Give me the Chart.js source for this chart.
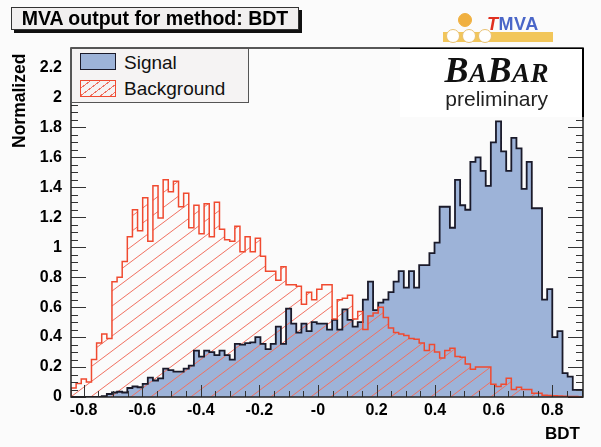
<!DOCTYPE html>
<html>
<head>
<meta charset="utf-8">
<script src="https://cdn.jsdelivr.net/npm/chart.js@4.4.1/dist/chart.umd.min.js"></script>
<style>
  html, body { margin: 0; padding: 0; background: #fbfbfb; }
  #wrap { position: relative; width: 601px; height: 447px; overflow: hidden; font-family: "Liberation Sans", Arial, sans-serif; }
  #c { position: absolute; left: 0; top: 0; }
  .title { position: absolute; left: 11px; top: 7px; width: 286px; height: 21px; background: #f1efef; border: 1px solid #333;
           box-shadow: 3px 3px 0 #111; font-weight: bold; font-size: 19.5px; line-height: 21px; text-align: center; }
  .legend { position: absolute; left: 71px; top: 48px; width: 176px; height: 53px; background: #f5f3f3; border: 1px solid #555; }
  .sw { position: absolute; left: 8px; width: 36px; height: 17px; box-sizing: border-box; }
  .sw.sig { top: 4px; background: #9db3d8; border: 1.5px solid #1a1a2a; }
  .sw.bkg { top: 31px; border: 1.5px solid #f04a30;
            background: repeating-linear-gradient(143deg, transparent 0 5px, #f07060 5px 6px); }
  .lt { position: absolute; left: 52px; font-size: 19px; color: #111; }
  .babar { position: absolute; left: 400px; top: 48px; width: 182px; height: 68px; background: #fff;
           border-top: 1px solid #000; border-right: 2px solid #000; }
  .bb { position: absolute; right: 33px; top: 3px; line-height: 36px; font-family: "Liberation Serif", "Times New Roman", serif;
        font-style: italic; font-weight: bold; color: #111; white-space: nowrap; letter-spacing: 0.5px; }
  .bb .big { font-size: 36px; }
  .bb .sm { font-size: 27px; }
  .prelim { position: absolute; right: 34px; top: 38px; font-size: 21px; color: #222; }
  .ytitle { position: absolute; left: 9px; top: 48px; font-weight: bold; font-size: 17.5px;
            transform-origin: 0 0; transform: translate(0, 100px) rotate(-90deg); white-space: nowrap; }
  .xtitle { position: absolute; right: 21px; top: 424px; font-weight: bold; font-size: 17px; }
  .tmva-bar { position: absolute; left: 443px; top: 32px; width: 110px; height: 10px; background: #f2c65a; }
  .circ { position: absolute; width: 12px; height: 12px; border-radius: 50%; background: #fff; border: 1px solid #e8c070; }
  .tmva { position: absolute; left: 487px; top: 14px; font-size: 18px; font-weight: bold; color: #4a66c8; letter-spacing: 0.5px; }
  .tmva i { color: #e03020; }
</style>
</head>
<body>
<div id="wrap">
  <canvas id="c" width="601" height="447"></canvas>
  <div class="title">MVA output for method: BDT</div>
  <div class="tmva-bar"></div>
  <div class="circ" style="left:446px;top:29px"></div>
  <div class="circ" style="left:462px;top:29px"></div>
  <div class="circ" style="left:478px;top:29px"></div>
  <div class="circ" style="left:458px;top:13px;background:#f0b040;border-color:#f0b040"></div>
  <div class="tmva"><i>T</i>MVA</div>
  <div class="legend">
    <div class="sw sig"></div><div class="lt" style="top:3px">Signal</div>
    <div class="sw bkg"></div><div class="lt" style="top:29px">Background</div>
  </div>
  <div class="babar">
    <div class="bb"><span class="big">B</span><span class="sm">A</span><span class="big">B</span><span class="sm">AR</span></div>
    <div class="prelim">preliminary</div>
  </div>
  <div class="ytitle">Normalized</div>
  <div class="xtitle">BDT</div>
</div>
<script>
// histogram binning of the BDT output
const nBins = 100;
const binLo = -0.843;
const binHi = 0.905;

// normalized bin contents
const signalVals = [
  0, 0, 0, 0, 0, 0, 0.005, 0.02, 0.03, 0.035,
  0.03, 0.06, 0.07, 0.065, 0.087, 0.13, 0.11, 0.125, 0.19, 0.18,
  0.17, 0.17, 0.19, 0.21, 0.31, 0.27, 0.31, 0.30, 0.28, 0.31,
  0.28, 0.25, 0.355, 0.35, 0.36, 0.365, 0.40, 0.355, 0.32, 0.355,
  0.47, 0.355, 0.59, 0.49, 0.43, 0.49, 0.44, 0.50, 0.49, 0.49,
  0.45, 0.515, 0.45, 0.585, 0.515, 0.47, 0.50, 0.65, 0.77, 0.58,
  0.63, 0.65, 0.70, 0.77, 0.84, 0.73, 0.84, 0.73, 0.88, 0.88,
  0.96, 1.03, 1.27, 1.27, 1.13, 1.45, 1.28, 1.25, 1.57, 1.60,
  1.51, 1.41, 1.70, 1.84, 1.64, 1.51, 1.73, 1.66, 1.39, 1.57,
  1.26, 1.26, 0.65, 0.72, 0.40, 0.44, 0.16, 0.136, 0.047, 0.047
];
const backgroundVals = [
  0.06, 0.09, 0.12, 0.10, 0.25, 0.36, 0.42, 0.39, 0.77, 0.80,
  0.905, 1.07, 1.25, 1.11, 1.33, 1.04, 1.41, 1.195, 1.45, 1.37,
  1.44, 1.27, 1.36, 1.13, 1.28, 1.09, 1.29, 1.07, 1.30, 1.12,
  1.05, 1.04, 1.14, 0.97, 1.07, 0.97, 1.06, 0.94, 0.84, 0.84,
  0.78, 0.87, 0.75, 0.75, 0.74, 0.62, 0.70, 0.65, 0.72, 0.75,
  0.75, 0.52, 0.65, 0.66, 0.68, 0.52, 0.57, 0.45, 0.54, 0.56,
  0.60, 0.53, 0.46, 0.43, 0.42, 0.41, 0.39, 0.385, 0.36, 0.31,
  0.35, 0.30, 0.26, 0.31, 0.325, 0.27, 0.265, 0.22, 0.185, 0.20,
  0.20, 0.20, 0.085, 0.07, 0.085, 0.125, 0.05, 0.065, 0.05, 0.05,
  0.025, 0.025, 0.012, 0.01, 0.008, 0.006, 0.005, 0.004, 0.003, 0.002
];

const yMax = 2.33;
const yTickStep = 0.2;
const xTickStep = 0.2;

function histPoints(vals) {
  const bw = (binHi - binLo) / nBins;
  const pts = [{ x: binLo, y: 0 }];
  vals.forEach((v, i) => pts.push({ x: binLo + i * bw, y: v }));
  pts.push({ x: binHi, y: vals[vals.length - 1] });
  pts.push({ x: binHi, y: 0 });
  return pts;
}

// red "///" hatch like ROOT fill style 3004
function makeHatch() {
  const w = 20, h = 15;
  const cv = document.createElement("canvas");
  cv.width = w; cv.height = h;
  const g = cv.getContext("2d");
  g.strokeStyle = "#f07060";
  g.lineWidth = 1;
  for (let k = -1; k <= 1; k++) {
    g.beginPath();
    g.moveTo(-5, h + 5 * h / w + k * h);
    g.lineTo(w + 5, -5 * h / w + k * h);
    g.stroke();
  }
  return g.createPattern(cv, "repeat");
}

// inward ticks and frame like ROOT
const framePlugin = {
  id: "frame",
  afterDatasetsDraw(chart) {
    const { ctx, chartArea: a, scales } = chart;
    const x = scales.x, y = scales.y;
    ctx.save();
    ctx.strokeStyle = "#333";
    ctx.lineWidth = 1;
    ctx.beginPath();
    for (let k = 0; k * 0.05 <= yMax; k++) {
      const py = Math.round(y.getPixelForValue(k * 0.05)) + 0.5;
      const len = k % 4 === 0 ? 15 : 7;
      ctx.moveTo(a.left, py); ctx.lineTo(a.left + len, py);
      ctx.moveTo(a.right, py); ctx.lineTo(a.right - len, py);
    }
    for (let k = Math.ceil(binLo / 0.05); k * 0.05 <= binHi; k++) {
      const px = Math.round(x.getPixelForValue(k * 0.05)) + 0.5;
      const len = k % 4 === 0 ? 12 : 6;
      ctx.moveTo(px, a.bottom); ctx.lineTo(px, a.bottom - len);
    }
    ctx.stroke();
    ctx.strokeStyle = "#222";
    ctx.lineWidth = 1.5;
    ctx.strokeRect(a.left, a.top, a.right - a.left, a.bottom - a.top);
    ctx.restore();
  }
};

const tickFont = { family: "'Liberation Sans', Arial, sans-serif", size: 16, weight: "bold" };

new Chart(document.getElementById("c"), {
  type: "line",
  data: {
    datasets: [
      {
        label: "Background",
        data: histPoints(backgroundVals),
        stepped: true,
        borderColor: "#f04a30",
        borderWidth: 1.5,
        backgroundColor: makeHatch(),
        fill: "origin",
        pointRadius: 0
      },
      {
        label: "Signal",
        data: histPoints(signalVals),
        stepped: true,
        borderColor: "#1a1a2a",
        borderWidth: 1.8,
        backgroundColor: "#9db3d8",
        fill: "origin",
        pointRadius: 0
      }
    ]
  },
  options: {
    responsive: false,
    animation: false,
    layout: { padding: { left: 0, top: 48, right: 18, bottom: 0 } },
    plugins: {
      legend: { display: false },
      tooltip: { enabled: false },
      filler: { drawTime: "beforeDatasetsDraw" }
    },
    scales: {
      x: {
        type: "linear",
        min: binLo,
        max: binHi,
        grid: { display: false, drawTicks: false },
        border: { display: false },
        afterFit(s) { s.height = 50; },
        ticks: {
          stepSize: xTickStep,
          includeBounds: false,
          padding: 4,
          color: "#000",
          font: tickFont,
          maxRotation: 0,
          autoSkip: false,
          callback: (v) => {
            const r = Math.round(v * 10) / 10;
            return r === 0 ? "-0" : String(r);
          }
        }
      },
      y: {
        min: 0,
        max: yMax,
        grid: { display: false, drawTicks: false },
        border: { display: false },
        afterFit(s) { s.width = 71; },
        ticks: {
          stepSize: yTickStep,
          includeBounds: false,
          padding: 9,
          color: "#000",
          font: tickFont,
          callback: (v) => String(Math.round(v * 10) / 10)
        }
      }
    }
  },
  plugins: [framePlugin]
});
</script>
</body>
</html>
